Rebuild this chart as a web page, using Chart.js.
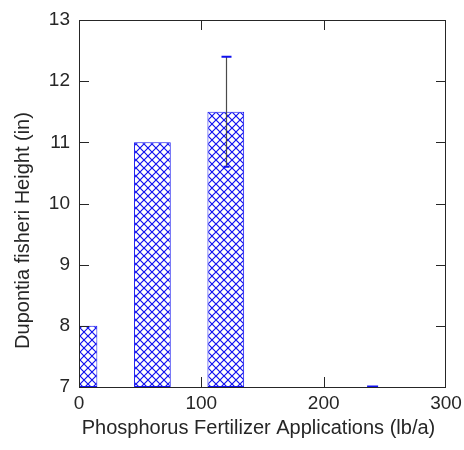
<!DOCTYPE html>
<html>
<head>
<meta charset="utf-8">
<script src="https://cdn.jsdelivr.net/npm/chart.js@4/dist/chart.umd.min.js"></script>
<style>
  html, body { margin: 0; padding: 0; background: #fff; }
  #wrap { width: 464px; height: 450px; }
</style>
</head>
<body>
<div id="wrap"><canvas id="c" width="464" height="450"></canvas></div>
<script>
// Phosphorus rate (lb/a) and mean plant height (in)
const rates = [0, 60, 120, 240];
const heights = [8, 11, 11.5, 7];
const errors = [0, 0, 0.9, 0];
const xTickValues = [0, 100, 200, 300];
const yTickValues = [7, 8, 9, 10, 11, 12, 13];
const xTitle = 'Phosphorus Fertilizer Applications (lb/a)';
const yTitle = 'Dupontia fisheri Height (in)';

const BLUE = '#1010f0';
const AXIS = '#262626';
const FONT = '"Liberation Sans", Arial, sans-serif';

// cross-hatch fill for the bars
function makeHatch() {
  const s = 8;
  const cv = document.createElement('canvas');
  cv.width = s; cv.height = s;
  const g = cv.getContext('2d');
  g.fillStyle = '#fff';
  g.fillRect(0, 0, s, s);
  g.strokeStyle = BLUE;
  g.lineWidth = 1.2;
  g.beginPath();
  g.moveTo(0, 0); g.lineTo(s, s);
  g.moveTo(0, s); g.lineTo(s, 0);
  g.stroke();
  return g.createPattern(cv, 'repeat');
}
const hatch = makeHatch();

// scale sizes are fixed so the plot box sits at the same place every time
function fixSize(prop, size) {
  return s => {
    s[prop] = size;
    s.paddingLeft = s.paddingRight = s.paddingTop = s.paddingBottom = 0;
  };
}

// box, inward ticks, error bar, flat bars and axis titles
const decor = {
  id: 'decor',
  afterDatasetsDraw(chart) {
    const { ctx, chartArea: a, scales: { x, y } } = chart;
    ctx.save();
    // flat (zero-height) bars show only as a short blue stroke on the axis
    const meta = chart.getDatasetMeta(0);
    meta.data.forEach((bar, i) => {
      if (heights[i] <= y.min) {
        const w = bar.width * 0.3;
        ctx.strokeStyle = BLUE;
        ctx.lineWidth = 2;
        ctx.beginPath();
        ctx.moveTo(bar.x - w / 2, a.bottom - 0.5);
        ctx.lineTo(bar.x + w / 2, a.bottom - 0.5);
        ctx.stroke();
      }
    });
    // error bars
    meta.data.forEach((bar, i) => {
      if (!errors[i]) return;
      const px = Math.round(bar.x) + 0.5;
      const top = y.getPixelForValue(heights[i] + errors[i]);
      const bot = y.getPixelForValue(heights[i] - errors[i]);
      ctx.strokeStyle = '#4a4a4a';
      ctx.lineWidth = 1.2;
      ctx.beginPath();
      ctx.moveTo(px, top); ctx.lineTo(px, bot);
      ctx.stroke();
      ctx.strokeStyle = BLUE;
      ctx.lineWidth = 2;
      ctx.beginPath();
      ctx.moveTo(px - 5, top); ctx.lineTo(px + 5, top);
      ctx.moveTo(px - 3, bot); ctx.lineTo(px + 3, bot);
      ctx.stroke();
    });
    // axes box
    ctx.strokeStyle = AXIS;
    ctx.lineWidth = 1;
    ctx.strokeRect(Math.round(a.left) + 0.5, Math.round(a.top) + 0.5,
                   Math.round(a.right - a.left) - 1, Math.round(a.bottom - a.top));
    // inward ticks on all four sides
    const tl = 10;
    ctx.beginPath();
    xTickValues.forEach(v => {
      if (v <= x.min || v >= x.max) return;
      const px = Math.round(x.getPixelForValue(v)) + 0.5;
      ctx.moveTo(px, a.bottom); ctx.lineTo(px, a.bottom - tl);
      ctx.moveTo(px, a.top); ctx.lineTo(px, a.top + tl);
    });
    yTickValues.forEach(v => {
      if (v <= y.min || v >= y.max) return;
      const py = Math.round(y.getPixelForValue(v)) + 0.5;
      ctx.moveTo(a.left, py); ctx.lineTo(a.left + tl, py);
      ctx.moveTo(a.right, py); ctx.lineTo(a.right - tl, py);
    });
    ctx.stroke();
    // axis titles
    ctx.fillStyle = AXIS;
    ctx.font = '20px ' + FONT;
    ctx.textAlign = 'center';
    ctx.textBaseline = 'middle';
    ctx.fillText(xTitle, (a.left + a.right) / 2 - 4, 428);
    ctx.translate(23, (a.top + a.bottom) / 2 + 27);
    ctx.rotate(-Math.PI / 2);
    ctx.fillText(yTitle, 0, 0);
    ctx.restore();
  }
};

new Chart(document.getElementById('c'), {
  type: 'bar',
  data: {
    datasets: [{
      data: rates.map((r, i) => ({ x: r, y: heights[i] })),
      base: 7,
      backgroundColor: hatch,
      borderColor: BLUE,
      borderWidth: 1,
      borderSkipped: false,
      categoryPercentage: 1,
      barPercentage: 0.5
    }]
  },
  options: {
    responsive: false,
    animation: false,
    events: [],
    layout: { padding: { top: 20, right: 18, left: 0, bottom: 0 } },
    plugins: { legend: { display: false }, tooltip: { enabled: false } },
    scales: {
      x: {
        type: 'linear',
        offset: false,
        min: 0, max: 300,
        afterBuildTicks: s => { s.ticks = xTickValues.map(v => ({ value: v })); },
        afterFit: fixSize('height', 63),
        grid: { display: false, drawTicks: false, offset: false },
        border: { display: false },
        ticks: { color: AXIS, font: { family: FONT, size: 19 }, padding: 5, maxRotation: 0, autoSkip: false }
      },
      y: {
        min: 7, max: 13,
        afterBuildTicks: s => { s.ticks = yTickValues.map(v => ({ value: v })); },
        afterFit: fixSize('width', 79),
        grid: { display: false, drawTicks: false },
        border: { display: false },
        ticks: { color: AXIS, font: { family: FONT, size: 19 }, padding: 9 }
      }
    }
  },
  plugins: [decor]
});
</script>
</body>
</html>
